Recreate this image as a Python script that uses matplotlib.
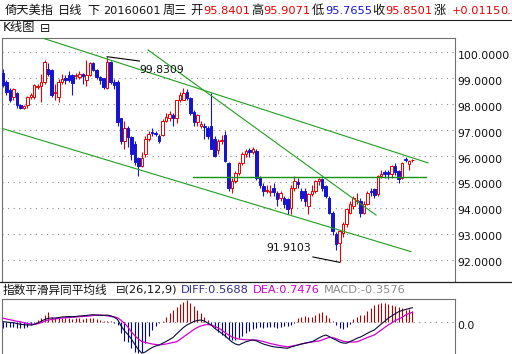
import matplotlib
matplotlib.use("Agg")
import matplotlib.pyplot as plt
from matplotlib.transforms import offset_copy
from matplotlib.lines import Line2D

FAM = ['DejaVu Sans', 'Noto Sans CJK SC']
plt.rcParams['font.family'] = FAM

# ---------------- data ----------------
opens = [99.20, 98.85, 98.54, 98.27, 98.42, 97.97, 97.87, 97.97, 98.27, 98.27,
         98.67, 98.70, 98.85, 99.37, 99.32, 98.42, 98.27, 98.85, 99.02, 99.12,
         99.12, 99.07, 99.04, 99.17, 98.93, 99.12, 99.57, 99.32, 99.04, 99.00,
         98.62, 99.62, 98.87, 98.85, 97.45, 96.60, 97.07, 96.72, 96.47, 95.94,
         95.63, 96.10, 96.67, 96.93, 96.91, 96.77, 96.80, 97.37, 97.47, 97.57,
         97.45, 98.15, 98.17, 98.47, 98.23, 97.69, 97.30, 97.17, 97.17, 97.07,
         97.18, 96.67, 96.22, 96.57, 96.80, 95.75, 94.77, 95.05, 95.36, 95.75,
         96.09, 96.23, 96.17, 96.21, 95.17, 94.85, 94.65, 94.62, 94.77, 94.57,
         94.37, 94.37, 94.34, 94.01, 94.77, 95.02, 94.67, 94.67, 94.07, 94.55,
         94.67, 95.05, 95.12, 94.85, 94.39, 93.81, 92.99, 92.64, 93.04, 93.37,
         93.81, 94.07, 94.27, 94.27, 93.81, 94.17, 94.67, 94.72, 94.55, 95.24,
         95.37, 95.37, 95.32, 95.63, 95.44, 95.17, 95.90, 95.71, 95.8401]
highs = [99.37, 98.92, 98.62, 98.62, 98.47, 98.02, 97.97, 98.32, 98.42, 98.77,
         98.77, 99.17, 99.72, 99.57, 99.37, 98.77, 98.97, 99.17, 99.12, 99.27,
         99.17, 99.22, 99.27, 99.22, 99.72, 99.62, 99.62, 99.37, 99.07, 99.02,
         99.83, 99.67, 98.97, 98.92, 97.47, 97.37, 97.17, 96.77, 96.57, 95.97,
         96.17, 96.77, 96.97, 97.07, 96.97, 96.87, 97.42, 97.67, 97.72, 97.67,
         98.17, 98.47, 98.62, 98.57, 98.27, 97.77, 97.62, 97.37, 97.27, 97.17,
         98.42, 96.77, 96.67, 96.82, 96.97, 95.77, 95.17, 95.42, 95.77, 96.17,
         96.27, 96.32, 96.37, 96.27, 95.22, 94.97, 94.87, 94.87, 94.97, 94.67,
         94.67, 94.47, 94.37, 94.87, 95.22, 95.17, 94.77, 94.77, 94.57, 94.87,
         95.07, 95.17, 95.17, 94.87, 94.47, 93.87, 93.07, 93.17, 93.47, 93.97,
         94.27, 94.47, 94.57, 94.37, 94.27, 94.67, 94.77, 94.77, 95.27, 95.47,
         95.47, 95.47, 95.67, 95.72, 95.47, 95.77, 95.97, 95.87, 95.9071]
lows = [98.67, 98.37, 98.07, 98.17, 97.87, 97.82, 97.82, 97.87, 98.22, 98.22,
        98.57, 98.07, 98.77, 99.07, 98.27, 98.17, 98.07, 98.77, 98.77, 98.87,
        98.37, 98.97, 98.97, 98.77, 98.72, 99.07, 99.27, 98.97, 98.77, 98.57,
        98.57, 98.77, 98.57, 97.17, 96.47, 96.27, 96.37, 95.87, 95.67, 95.24,
        95.57, 95.97, 96.57, 96.77, 96.77, 96.52, 96.77, 97.32, 97.37, 97.17,
        97.27, 98.07, 98.17, 98.17, 97.57, 97.17, 97.17, 97.07, 96.67, 96.67,
        96.27, 95.97, 96.07, 96.47, 95.77, 94.67, 94.57, 94.97, 95.27, 95.67,
        95.97, 95.97, 96.07, 95.07, 94.77, 94.47, 94.57, 94.47, 94.47, 94.07,
        94.27, 94.02, 93.77, 93.77, 94.67, 94.77, 94.27, 94.07, 93.77, 94.47,
        94.57, 94.87, 94.67, 94.37, 93.77, 92.97, 92.37, 91.91, 92.87, 93.27,
        93.77, 93.97, 94.17, 93.67, 93.77, 94.12, 94.47, 94.37, 94.47, 95.17,
        95.17, 95.12, 95.17, 95.27, 94.97, 95.12, 95.77, 95.47, 95.7655]
closes = [98.73, 98.47, 98.15, 98.57, 97.96, 97.87, 97.95, 98.27, 98.37, 98.73,
          98.72, 98.87, 99.62, 99.17, 98.35, 98.47, 98.85, 98.97, 98.95, 98.93,
          98.81, 99.12, 99.16, 99.07, 99.12, 99.57, 99.32, 99.04, 98.93, 98.66,
          99.62, 98.85, 98.73, 97.30, 96.60, 97.07, 96.72, 96.10, 95.77, 95.63,
          95.94, 96.67, 96.87, 96.89, 96.87, 96.60, 97.37, 97.50, 97.63, 97.47,
          98.15, 98.35, 98.42, 98.23, 97.65, 97.30, 97.57, 97.22, 97.12, 96.77,
          96.29, 96.02, 96.60, 96.62, 95.83, 94.77, 95.05, 95.36, 95.75, 96.09,
          96.21, 96.17, 96.27, 95.17, 94.87, 94.66, 94.69, 94.67, 94.62, 94.35,
          94.57, 94.14, 93.97, 94.77, 95.05, 94.92, 94.37, 94.27, 94.55, 94.67,
          95.05, 95.12, 94.77, 94.47, 93.81, 93.12, 92.60, 93.12, 93.37, 93.95,
          94.17, 94.37, 94.32, 93.81, 94.17, 94.57, 94.62, 94.52, 95.24, 95.32,
          95.32, 95.32, 95.63, 95.37, 95.12, 95.74, 95.85, 95.82, 95.8501]

diff = [0.01, 0.00, -0.02, -0.03, -0.06, -0.09, -0.11, -0.12, -0.12, -0.10,
        -0.04, 0.03, 0.10, 0.15, 0.16, 0.16, 0.18, 0.20, 0.21, 0.22,
        0.21, 0.22, 0.24, 0.25, 0.26, 0.28, 0.29, 0.28, 0.27, 0.26,
        0.28, 0.25, 0.20, 0.10, -0.15, -0.35, -0.50, -0.68, -0.90, -1.10,
        -1.25, -1.20, -1.10, -1.02, -0.96, -0.92, -0.85, -0.78, -0.70, -0.62,
        -0.48, -0.35, -0.22, -0.12, -0.05, 0.02, 0.06, 0.08, 0.04, -0.04,
        -0.12, -0.25, -0.35, -0.45, -0.55, -0.68, -0.80, -0.88, -0.92, -0.85,
        -0.79, -0.75, -0.72, -0.75, -0.82, -0.88, -0.92, -0.96, -0.99, -1.01,
        -1.02, -1.04, -1.05, -1.00, -0.96, -0.92, -0.88, -0.85, -0.82, -0.79,
        -0.72, -0.64, -0.57, -0.52, -0.58, -0.66, -0.72, -0.80, -0.84, -0.85,
        -0.78, -0.72, -0.65, -0.60, -0.53, -0.45, -0.38, -0.32, -0.20, -0.08,
        0.03, 0.15, 0.24, 0.33, 0.41, 0.46, 0.50, 0.54, 0.57]
dea = [0.15, 0.12, 0.09, 0.06, 0.03, 0.01, -0.03, -0.06, -0.08, -0.09,
       -0.07, -0.03, 0.03, 0.08, 0.10, 0.12, 0.14, 0.16, 0.17, 0.18,
       0.19, 0.20, 0.21, 0.22, 0.23, 0.24, 0.26, 0.27, 0.28, 0.27,
       0.25, 0.22, 0.20, 0.17, 0.07, -0.05, -0.20, -0.40, -0.55, -0.68,
       -0.78, -0.82, -0.85, -0.88, -0.90, -0.92, -0.90, -0.88, -0.85, -0.82,
       -0.79, -0.70, -0.60, -0.50, -0.40, -0.30, -0.22, -0.16, -0.12, -0.10,
       -0.12, -0.17, -0.24, -0.32, -0.42, -0.52, -0.60, -0.65, -0.68, -0.70,
       -0.71, -0.71, -0.72, -0.72, -0.75, -0.78, -0.82, -0.86, -0.89, -0.92,
       -0.95, -0.97, -0.99, -0.97, -0.94, -0.92, -0.88, -0.85, -0.82, -0.80,
       -0.78, -0.76, -0.72, -0.66, -0.62, -0.62, -0.67, -0.72, -0.77, -0.79,
       -0.80, -0.80, -0.79, -0.74, -0.68, -0.62, -0.57, -0.52, -0.42, -0.32,
       -0.22, -0.12, -0.04, 0.05, 0.12, 0.18, 0.28, 0.34, 0.39]
macd_hist = [-0.22, -0.20, -0.20, -0.18, -0.24, -0.25, -0.22, -0.18, -0.10, -0.02,
             0.08, 0.15, 0.28, 0.41, 0.22, 0.18, 0.15, 0.16, 0.17, 0.15,
             0.12, 0.15, 0.17, 0.14, 0.15, 0.18, 0.17, 0.12, 0.10, 0.05,
             0.06, 0.03, -0.02, -0.10, -0.45, -0.75, -0.80, -1.05, -1.20, -1.25,
             -1.20, -0.85, -0.55, -0.30, -0.15, -0.05, 0.05, 0.20, 0.38, 0.50,
             0.62, 0.72, 0.81, 0.88, 0.78, 0.66, 0.50, 0.36, 0.20, 0.08,
             -0.10, -0.25, -0.40, -0.50, -0.60, -0.68, -0.72, -0.70, -0.62, -0.55,
             -0.45, -0.35, -0.28, -0.22, -0.20, -0.22, -0.20, -0.18, -0.20, -0.22,
             -0.18, -0.15, -0.17, -0.10, -0.05, 0.15, 0.22, 0.25, 0.22, 0.20,
             0.28, 0.38, 0.40, 0.30, 0.18, 0.06, -0.10, -0.24, -0.28, -0.20,
             -0.08, 0.12, 0.20, 0.28, 0.30, 0.45, 0.58, 0.68, 0.73, 0.77,
             0.77, 0.72, 0.70, 0.65, 0.60, 0.55, 0.50, 0.52, 0.45]

price_ticks = [92, 93, 94, 95, 96, 97, 98, 99, 100]

# trend lines: (index, price) endpoints
upper_line = [(10.2, 100.60), (122.5, 95.74)]
steep_line = [(41.8, 100.09), (107.5, 93.73)]
lower_line = [(-0.3, 97.07), (117.6, 92.32)]
level_line = [(54.8, 95.19), (121.9, 95.19)]

high_label = "99.8309"
low_label = "91.9103"

# ---------------- figure ----------------
W, H = 512, 354
fig = plt.figure(figsize=(W / 100, H / 100), dpi=100)
fig.patch.set_facecolor('white')

RED = '#e60000'
BLUE = '#1414d2'
GREEN = '#1f9f1f'
GRID = '#8c8c8c'


def fx(px):
    return px / W


def fy(py):
    return 1 - py / H


# main price axes
ax = fig.add_axes([fx(2), fy(281), fx(455) - fx(2), fy(38) - fy(281)])
ax.set_xlim(-0.29, 130.26)
ax.set_ylim(91.19, 100.551)
ax.set_xticks([])
ax.set_yticks([])
ax.spines['bottom'].set_visible(False)
for s in ['left', 'top', 'right']:
    ax.spines[s].set_color('#707070')
    ax.spines[s].set_linewidth(0.8)

for p in price_ticks:
    ax.axhline(p, color=GRID, lw=0.8, ls=(0, (1, 4)), zorder=1)

n = len(closes)
xs = list(range(n))
for i in xs:
    o, h, l, c = opens[i], highs[i], lows[i], closes[i]
    up = c >= o
    col = RED if up else BLUE
    ax.vlines(i, l, h, color=col, lw=0.8, zorder=2)
    ax.bar(i, max(abs(c - o), 0.012), bottom=min(o, c), width=0.72,
           facecolor='white' if up else col, edgecolor=col, linewidth=0.7, zorder=3)

for ln, lw_, colr in [(upper_line, 0.8, GREEN), (steep_line, 0.8, GREEN),
                      (lower_line, 0.8, GREEN), (level_line, 1.0, '#149614')]:
    ax.plot([ln[0][0], ln[1][0]], [ln[0][1], ln[1][1]], color=colr, lw=lw_, zorder=4)

# annotations
ax.plot([30, 39.3], [99.83, 99.665], color='black', lw=0.8, zorder=5)
ax.text(39.3, 99.32, high_label, fontsize=7.8, va='center', ha='left', color='#111111', zorder=6)
ax.plot([89.3, 97.0], [92.115, 91.91], color='black', lw=0.8, zorder=5)
ax.text(75.8, 92.46, low_label, fontsize=7.8, va='center', ha='left', color='#111111', zorder=6)

# right axis labels
tr = offset_copy(ax.get_yaxis_transform(), fig=fig, x=2.5, y=-3.4, units='dots')
for p in price_ticks:
    ax.text(1.0, p, f"{p:.4f}", transform=tr, fontsize=7.8, va='center', ha='left', color='#111111')

# MACD axes
ax2 = fig.add_axes([fx(2), 0, fx(455) - fx(2), fy(299)])
ax2.set_xlim(-0.29, 130.26)
ax2.set_ylim(-1.28, 0.92)
ax2.set_xticks([])
ax2.set_yticks([])
ax2.spines['bottom'].set_visible(False)
for s in ['left', 'top', 'right']:
    ax2.spines[s].set_color('#707070')
    ax2.spines[s].set_linewidth(0.8)
ax2.axhline(0, color=GRID, lw=0.8, ls=(0, (1, 4)), zorder=1)
for i in xs:
    v = macd_hist[i]
    ax2.vlines(i, 0, v, color='#b40000' if v >= 0 else '#0000a0', lw=0.8, zorder=2)
ax2.plot(xs, dea, color='#d200d2', lw=0.9, zorder=3)
ax2.plot(xs, diff, color='#0a0a3c', lw=0.8, zorder=4)
tr2 = offset_copy(ax2.get_yaxis_transform(), fig=fig, x=2.5, y=-3.8, units='dots')
ax2.text(1.0, 0, "0.0", transform=tr2, fontsize=7.8, va='center', ha='left', color='#111111')

# frame lines
fig.add_artist(Line2D([0, 1], [fy(19.5), fy(19.5)], color='#202020', lw=0.8))
fig.add_artist(Line2D([0, 1], [fy(281.7), fy(281.7)], color='#202020', lw=0.9))


# header tokens
def put(x, y, s, c='#111111', size=8.2):
    fig.text(fx(x), fy(y), s, color=c, fontsize=size, va='center', ha='left', family=FAM)


CJ = 8.8
hy = 10.5
put(5, hy, "倚天美指", size=CJ)
put(58, hy, "日线", size=CJ)
put(87, hy, "下", size=CJ)
put(103, hy, "20160601")
put(163, hy, "周三", size=CJ)
put(190, hy, "开", size=CJ)
put(203, hy, "95.8401", RED)
put(251, hy, "高", size=CJ)
put(263, hy, "95.9071", RED)
put(312, hy, "低", size=CJ)
put(325, hy, "95.7655", BLUE)
put(372, hy, "收", size=CJ)
put(385, hy, "95.8501", RED)
put(434, hy, "涨", size=CJ)
put(452, hy, "+0.0115", RED)
put(500, hy, "0.", RED)

put(3, 28, "K线图", size=CJ)
put(40, 28, "⊟", size=CJ)

my = 290
put(3, my, "指数平滑异同平均线", size=8.4)
put(116, my, "⊟(26,12,9)")
put(181, my, "DIFF:0.5688", '#2d2d8c')
put(253, my, "DEA:0.7476", '#d200d2')
put(324, my, "MACD:-0.3576", '#8c8c8c')

fig.savefig("out.png", dpi=100, facecolor='white')
